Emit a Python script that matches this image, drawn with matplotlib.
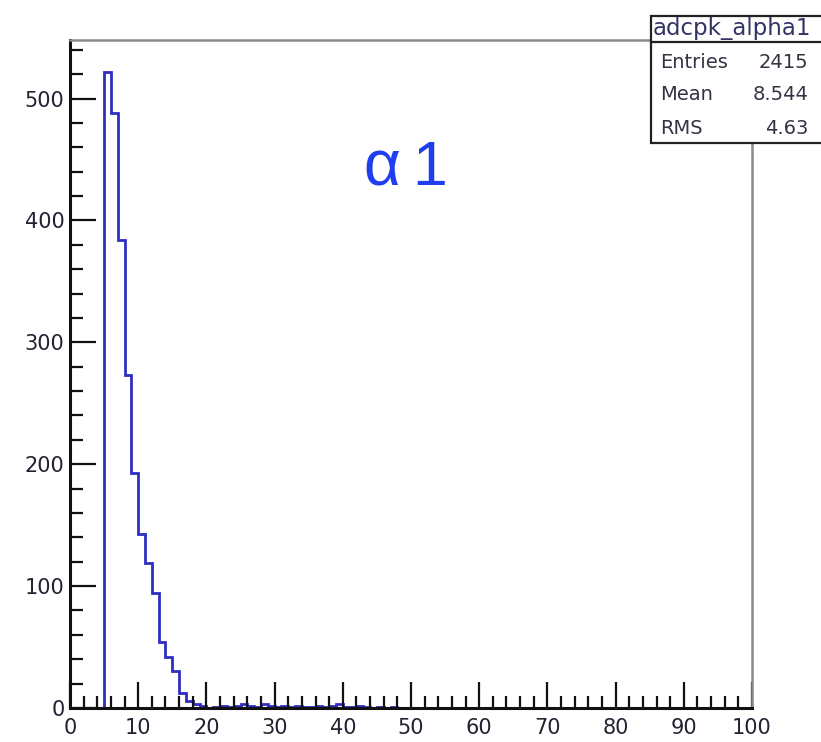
import matplotlib
matplotlib.use("Agg")
import matplotlib.pyplot as plt
from matplotlib.ticker import MultipleLocator

# histogram adcpk_alpha1, 1 unit bins from 0 to 100
bin_edges = list(range(0, 101))
counts = [0, 0, 0, 0, 0,
          522, 488, 384, 273, 193, 143, 119, 94, 54, 42,
          30, 12, 6, 3, 2, 0, 1, 2, 1, 2, 3, 2, 1, 3, 2,
          1, 2, 1, 2, 1, 1, 2, 1, 2, 3, 1, 1, 2, 1, 0,
          1, 0, 1, 0, 0]
counts = counts + [0] * (100 - len(counts))

stats_name = "adcpk_alpha1"
stats_rows = [("Entries", "2415"), ("Mean", "8.544"), ("RMS", "4.63")]

plt.rcParams["font.family"] = ["DejaVu Sans"]

fig = plt.figure(figsize=(8.21, 7.42), dpi=100)
ax = fig.add_axes([70 / 821, 34 / 742, 682 / 821, 668 / 742])

ax.stairs(counts, bin_edges, color="#2e2ec0", linewidth=2)

ax.set_xlim(0, 100)
ax.set_ylim(0, 1.05 * max(counts))

ax.xaxis.set_major_locator(MultipleLocator(10))
ax.xaxis.set_minor_locator(MultipleLocator(2))
ax.yaxis.set_major_locator(MultipleLocator(100))
ax.yaxis.set_minor_locator(MultipleLocator(20))
ax.tick_params(which="both", direction="in", top=False, right=False,
               color="#111111", width=1.6)
ax.tick_params(which="major", length=19, labelsize=15, labelcolor="#222233")
ax.tick_params(axis="x", which="major", pad=7)
ax.tick_params(axis="y", which="major", pad=4)
ax.tick_params(which="minor", length=9)

for side in ["left", "bottom"]:
    ax.spines[side].set_linewidth(2.2)
    ax.spines[side].set_color("#111111")
for side in ["top", "right"]:
    ax.spines[side].set_linewidth(1.8)
    ax.spines[side].set_color("#8a8a8a")

# the "alpha 1" label, letter and digit set a little apart as in the picture
lab_font = ["Liberation Sans", "DejaVu Sans"]
base_y = 1 - 185 / 742
fig.text(382 / 821, base_y, "\u03b1", color="#1f3ef0", fontsize=46,
         family=lab_font, ha="center", va="baseline")
fig.text(430 / 821, base_y, "1", color="#1f3ef0", fontsize=45,
         family=lab_font, ha="center", va="baseline")

# stats box (cut at the right edge, as in the picture)
bx0, bx1 = 651 / 821, 1.02
by0, by1 = 1 - 143 / 742, 1 - 16 / 742
fig.patches.append(plt.Rectangle((bx0, by0), bx1 - bx0, by1 - by0,
                                 transform=fig.transFigure, facecolor="white",
                                 edgecolor="#222222", linewidth=1.6))
hy = 1 - 42 / 742
fig.lines.append(plt.Line2D([bx0, bx1], [hy, hy], transform=fig.transFigure,
                            color="#222222", linewidth=1.6))
fig.text(653 / 821, 1 - 29 / 742, stats_name, fontsize=16.5, color="#333366",
         ha="left", va="center")
row_y = [62, 95, 128]
for (label, value), y in zip(stats_rows, row_y):
    fig.text(660 / 821, 1 - y / 742, label, fontsize=14, color="#333344",
             ha="left", va="center")
    fig.text(808 / 821, 1 - y / 742, value, fontsize=14, color="#333344",
             ha="right", va="center")

fig.savefig("out.png", dpi=100)
